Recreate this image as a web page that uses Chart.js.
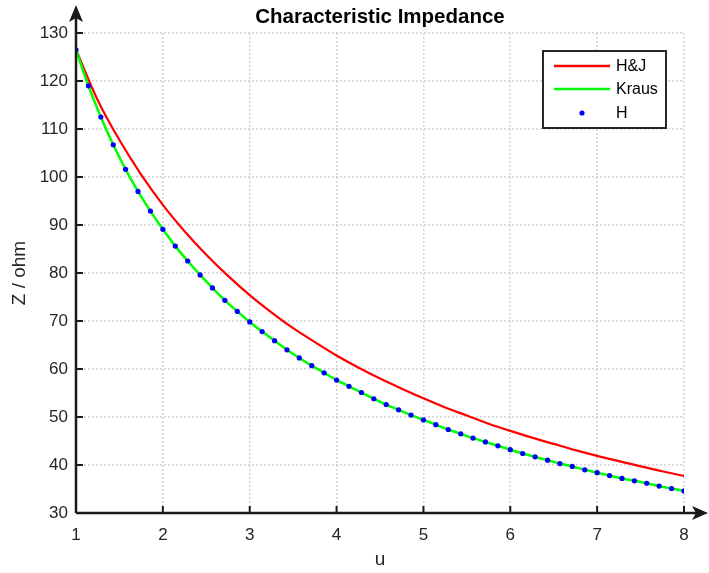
<!DOCTYPE html>
<html>
<head>
<meta charset="utf-8">
<title>Characteristic Impedance</title>
<script src="https://cdn.jsdelivr.net/npm/chart.js@4.4.1/dist/chart.umd.min.js"></script>
<style>
    html, body { margin: 0; padding: 0; background: #fff; }
    #wrap { width: 709px; height: 573px; }
</style>
</head>
<body>
<div id="wrap"><canvas id="chart" width="709" height="573"></canvas></div>
<script>
// データ
const seriesLabels = ['H&J', 'Kraus', 'H'];

// u の値 (H, Kraus)
const uH = [1, 1.143, 1.286, 1.429, 1.571, 1.714, 1.857, 2, 2.143, 2.286,
    2.429, 2.571, 2.714, 2.857, 3, 3.143, 3.286, 3.429, 3.571, 3.714,
    3.857, 4, 4.143, 4.286, 4.429, 4.571, 4.714, 4.857, 5, 5.143,
    5.286, 5.429, 5.571, 5.714, 5.857, 6, 6.143, 6.286, 6.429, 6.571,
    6.714, 6.857, 7, 7.143, 7.286, 7.429, 7.571, 7.714, 7.857, 8];
const zH = [126.5, 119.0, 112.5, 106.7, 101.6, 97.0, 92.9, 89.1, 85.6, 82.5,
    79.6, 76.9, 74.3, 72.0, 69.8, 67.8, 65.9, 64.0, 62.3, 60.7,
    59.2, 57.7, 56.4, 55.1, 53.8, 52.6, 51.5, 50.4, 49.4, 48.4,
    47.4, 46.5, 45.6, 44.8, 44.0, 43.2, 42.4, 41.7, 41.0, 40.3,
    39.7, 39.0, 38.4, 37.8, 37.2, 36.7, 36.2, 35.6, 35.1, 34.6];
const zKraus = [126.5, 119.0, 112.5, 106.7, 101.6, 97.0, 92.9, 89.1, 85.6, 82.5,
    79.6, 76.9, 74.3, 72.0, 69.8, 67.8, 65.9, 64.0, 62.3, 60.7,
    59.2, 57.7, 56.4, 55.1, 53.8, 52.6, 51.5, 50.4, 49.4, 48.4,
    47.4, 46.5, 45.6, 44.8, 44.0, 43.2, 42.4, 41.7, 41.0, 40.3,
    39.7, 39.0, 38.4, 37.8, 37.2, 36.7, 36.2, 35.6, 35.1, 34.6];

// H&J
const uHJ = [1, 1.25, 1.5, 1.75, 2, 2.25, 2.5, 2.75, 3, 3.25, 3.5, 3.75, 4, 4.25, 4.5,
    4.75, 5, 5.25, 5.5, 5.75, 6, 6.25, 6.5, 6.75, 7, 7.25, 7.5, 7.75, 8];
const zHJ = [126.5, 116.0, 107.7, 100.5, 94.2, 88.7, 83.8, 79.4, 75.4, 71.8, 68.5, 65.6, 62.8, 60.3, 58.0,
    55.9, 53.9, 52.0, 50.3, 48.6, 47.1, 45.7, 44.4, 43.1, 41.9, 40.8, 39.7, 38.7, 37.7];

// 目盛り
const xTicks = [1, 2, 3, 4, 5, 6, 7, 8];
const yTicks = [30, 40, 50, 60, 70, 80, 90, 100, 110, 120, 130];

const toPoints = (xs, ys) => xs.map((x, i) => ({ x: x, y: ys[i] }));

const textColor = '#262626';
const fontFamily = '"Liberation Sans", Arial, Helvetica, sans-serif';

// 軸 (矢印付き) と内向きの目盛り線
const axesPlugin = {
    id: 'axesPlugin',
    afterDraw(chart) {
        const ctx = chart.ctx;
        const area = chart.chartArea;
        const xs = chart.scales.x;
        const ys = chart.scales.y;
        ctx.save();
        ctx.strokeStyle = '#1a1a1a';
        ctx.fillStyle = '#1a1a1a';
        ctx.lineWidth = 2.5;

        // 縦軸
        ctx.beginPath();
        ctx.moveTo(area.left, area.bottom);
        ctx.lineTo(area.left, 18);
        ctx.stroke();
        ctx.beginPath();
        ctx.moveTo(area.left, 5);
        ctx.lineTo(area.left - 7, 22);
        ctx.lineTo(area.left, 18);
        ctx.lineTo(area.left + 7, 22);
        ctx.closePath();
        ctx.fill();

        // 横軸
        ctx.beginPath();
        ctx.moveTo(area.left, area.bottom);
        ctx.lineTo(699, area.bottom);
        ctx.stroke();
        ctx.beginPath();
        ctx.moveTo(708, area.bottom);
        ctx.lineTo(692, area.bottom - 7);
        ctx.lineTo(696, area.bottom);
        ctx.lineTo(692, area.bottom + 7);
        ctx.closePath();
        ctx.fill();

        // 目盛り線
        ctx.lineWidth = 2;
        xTicks.forEach(v => {
            const px = xs.getPixelForValue(v);
            ctx.beginPath();
            ctx.moveTo(px, area.bottom);
            ctx.lineTo(px, area.bottom - 7);
            ctx.stroke();
        });
        yTicks.forEach(v => {
            const py = ys.getPixelForValue(v);
            ctx.beginPath();
            ctx.moveTo(area.left, py);
            ctx.lineTo(area.left + 7, py);
            ctx.stroke();
        });
        ctx.restore();
    }
};

// 凡例 (グラフ内右上)
const legendPlugin = {
    id: 'legendPlugin',
    afterDraw(chart) {
        const ctx = chart.ctx;
        const area = chart.chartArea;
        const w = 123, h = 77;
        const bx = area.right - 18 - w;
        const by = area.top + 18;
        ctx.save();
        ctx.fillStyle = '#fff';
        ctx.fillRect(bx, by, w, h);
        ctx.strokeStyle = '#262626';
        ctx.lineWidth = 2;
        ctx.strokeRect(bx, by, w, h);
        ctx.font = '16px ' + fontFamily;
        ctx.textBaseline = 'middle';
        ctx.textAlign = 'left';
        const rows = [15, 38, 62];
        chart.data.datasets.forEach((ds, i) => {
            const ry = by + rows[i];
            if (ds.showLine === false) {
                ctx.fillStyle = ds.pointBackgroundColor;
                ctx.beginPath();
                ctx.arc(bx + 39, ry, 2.6, 0, Math.PI * 2);
                ctx.fill();
            } else {
                ctx.strokeStyle = ds.borderColor;
                ctx.lineWidth = 2.5;
                ctx.beginPath();
                ctx.moveTo(bx + 11, ry);
                ctx.lineTo(bx + 67, ry);
                ctx.stroke();
            }
            ctx.fillStyle = '#000';
            ctx.fillText(ds.label, bx + 73, ry + 1);
        });
        ctx.restore();
    }
};

const ctx = document.getElementById('chart');
new Chart(ctx, {
    type: 'line',
    data: {
        datasets: [
            {
                label: seriesLabels[0],
                data: toPoints(uHJ, zHJ),
                borderColor: '#ff0000',
                borderWidth: 2.2,
                pointRadius: 0,
                cubicInterpolationMode: 'monotone',
                fill: false,
                order: 3
            },
            {
                label: seriesLabels[1],
                data: toPoints(uH, zKraus),
                borderColor: '#00ff00',
                borderWidth: 2.5,
                pointRadius: 0,
                cubicInterpolationMode: 'monotone',
                fill: false,
                order: 2
            },
            {
                label: seriesLabels[2],
                data: toPoints(uH, zH),
                showLine: false,
                pointRadius: 2.6,
                pointBorderWidth: 0,
                pointBackgroundColor: '#0000ff',
                pointBorderColor: '#0000ff',
                order: 1
            }
        ]
    },
    options: {
        responsive: false,
        animation: false,
        devicePixelRatio: 1,
        layout: {
            padding: { top: 0, right: 25, bottom: 0, left: 0 }
        },
        plugins: {
            legend: { display: false },
            tooltip: { enabled: false },
            title: {
                display: true,
                fullSize: false,
                text: 'Characteristic Impedance',
                color: '#000',
                font: { family: fontFamily, size: 20.5, weight: 'bold', lineHeight: 1.2 },
                padding: { top: 5.4, bottom: 3 }
            }
        },
        scales: {
            x: {
                type: 'linear',
                min: 1,
                max: 8,
                afterBuildTicks: scale => { scale.ticks = xTicks.map(v => ({ value: v })); },
                afterFit: scale => { scale.height = 60; },
                ticks: {
                    color: textColor,
                    font: { family: fontFamily, size: 17 },
                    padding: 12,
                    maxRotation: 0
                },
                grid: { color: '#d4d4d4', lineWidth: 1.6, drawTicks: false },
                border: { display: false, dash: [2, 2] },
                title: {
                    display: true,
                    text: 'u',
                    color: textColor,
                    font: { family: fontFamily, size: 19 },
                    padding: { top: 0, bottom: 2 }
                }
            },
            y: {
                type: 'linear',
                min: 30,
                max: 130,
                afterBuildTicks: scale => { scale.ticks = yTicks.map(v => ({ value: v })); },
                afterFit: scale => { scale.width = 76; },
                ticks: {
                    color: textColor,
                    font: { family: fontFamily, size: 17 },
                    padding: 8
                },
                grid: { color: '#d4d4d4', lineWidth: 1.6, drawTicks: false },
                border: { display: false, dash: [2, 2] },
                title: {
                    display: true,
                    text: 'Z / ohm',
                    color: textColor,
                    font: { family: fontFamily, size: 19 },
                    padding: { top: 8, bottom: 0 }
                }
            }
        }
    },
    plugins: [axesPlugin, legendPlugin]
});
</script>
</body>
</html>
